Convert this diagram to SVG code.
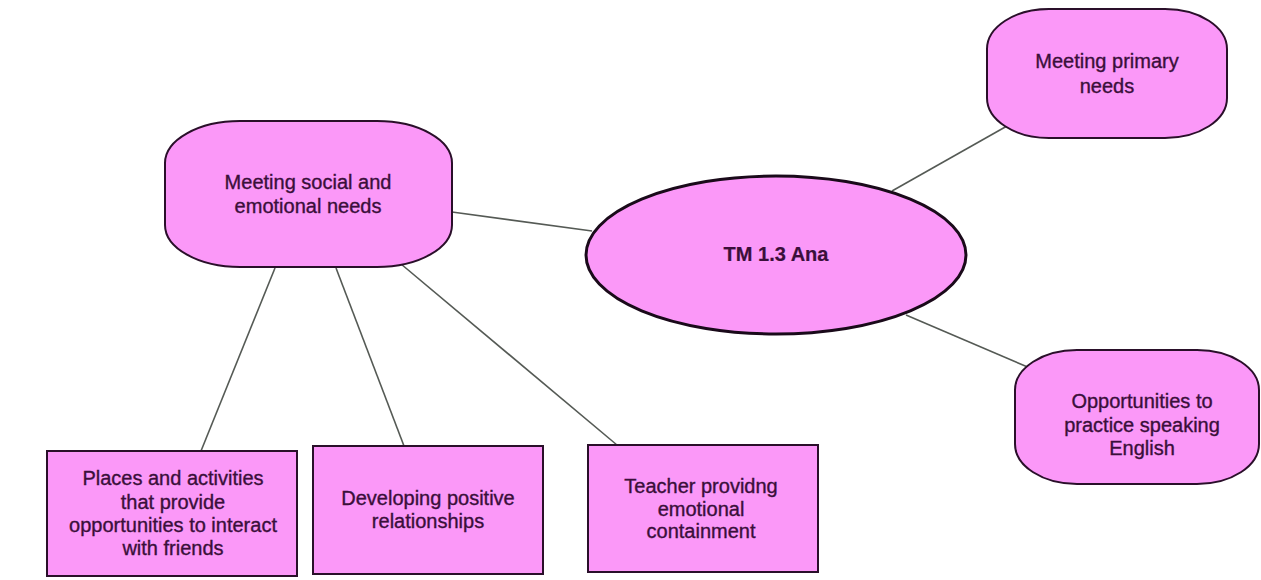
<svg xmlns="http://www.w3.org/2000/svg" width="1261" height="580" viewBox="0 0 1261 580">
<style>
.n{fill:#fb98f8;stroke:#2a0f2a;stroke-width:2}
.c{stroke:#555a55;stroke-width:1.6;fill:none}
text{font-family:"Liberation Sans",Arial,sans-serif;font-size:20px;fill:#3a0f3a;stroke:#3a0f3a;stroke-width:0.35;text-anchor:middle}
.b{font-weight:bold;stroke-width:0.2}
</style>
<rect width="1261" height="580" fill="#ffffff"/>
<g id="connectors">
<line class="c" x1="452" y1="212" x2="592" y2="231"/>
<line class="c" x1="892" y1="191" x2="1007" y2="126"/>
<line class="c" x1="906" y1="315" x2="1030" y2="368"/>
<line class="c" x1="275" y1="268" x2="201" y2="451"/>
<line class="c" x1="336" y1="268" x2="404" y2="446"/>
<line class="c" x1="401" y1="264" x2="617" y2="445"/>
</g>
<g id="center">
<ellipse cx="776" cy="255" rx="190" ry="79" fill="#fb98f8" stroke="#1a0a1a" stroke-width="3"/>
<text class="b" x="776" y="261">TM 1.3 Ana</text>
</g>
<g id="social">
<rect class="n" x="165" y="121" width="287" height="146" rx="75" ry="42"/>
<text x="308" y="189">Meeting social and</text>
<text x="308" y="213">emotional needs</text>
</g>
<g id="primary">
<rect class="n" x="987" y="9" width="240" height="129" rx="62" ry="40"/>
<text x="1107" y="68">Meeting primary</text>
<text x="1107" y="93">needs</text>
</g>
<g id="english">
<rect class="n" x="1015" y="350" width="244" height="134" rx="62" ry="40"/>
<text x="1142" y="408">Opportunities to</text>
<text x="1142" y="432">practice speaking</text>
<text x="1142" y="455">English</text>
</g>
<g id="places">
<rect class="n" x="47" y="451" width="250" height="125"/>
<text x="173" y="485">Places and activities</text>
<text x="173" y="509">that provide</text>
<text x="173" y="532">opportunities to interact</text>
<text x="173" y="555">with friends</text>
</g>
<g id="developing">
<rect class="n" x="313" y="446" width="230" height="128"/>
<text x="428" y="505">Developing positive</text>
<text x="428" y="528">relationships</text>
</g>
<g id="teacher">
<rect class="n" x="588" y="445" width="230" height="127"/>
<text x="701" y="493">Teacher providng</text>
<text x="701" y="516">emotional</text>
<text x="701" y="538">containment</text>
</g>
</svg>
